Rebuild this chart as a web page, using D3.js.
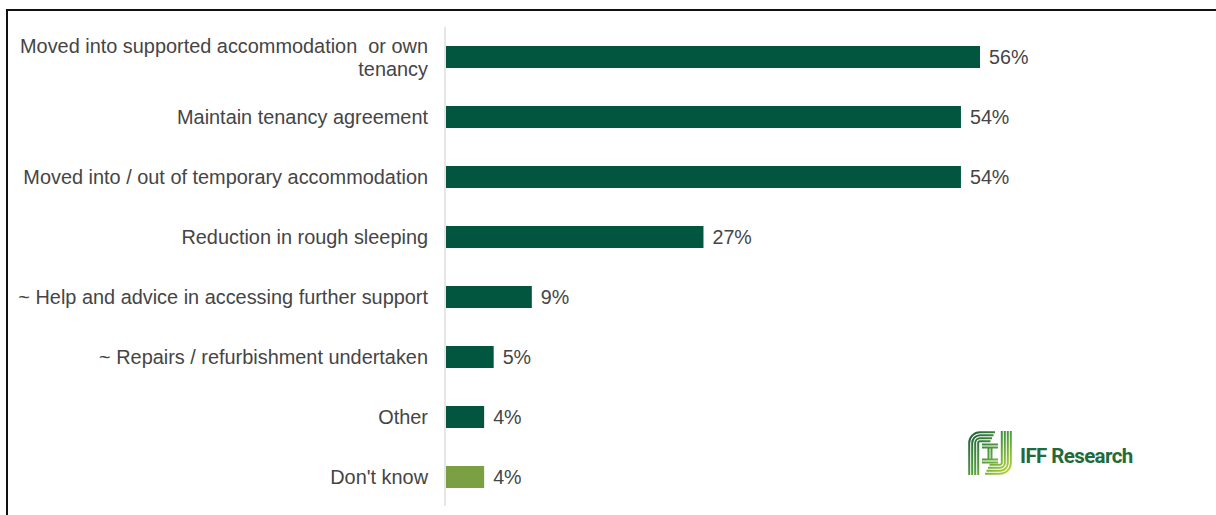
<!DOCTYPE html>
<html>
<head>
<meta charset="utf-8">
<script src="https://cdn.jsdelivr.net/npm/d3@7"></script>
<style>
  html, body { margin: 0; padding: 0; background: #fff; }
  svg { display: block; }
</style>
</head>
<body>
<script>
// Outcomes achieved, share of respondents (%)
const categories = [
  "Moved into supported accommodation  or own tenancy",
  "Maintain tenancy agreement",
  "Moved into / out of temporary accommodation",
  "Reduction in rough sleeping",
  "~ Help and advice in accessing further support",
  "~ Repairs / refurbishment undertaken",
  "Other",
  "Don't know"
];
const values = [56, 54, 54, 27, 9, 5, 4, 4];
const valueLabels = ["56%", "54%", "54%", "27%", "9%", "5%", "4%", "4%"];
// wrapped label lines for long categories
const labelLines = {
  "Moved into supported accommodation  or own tenancy": ["Moved into supported accommodation  or own", "tenancy"]
};

const W = 1216, H = 515;
const svg = d3.select("body").append("svg").attr("width", W).attr("height", H);

const font = "'Liberation Sans', Arial, sans-serif";
const textColor = "#454545";
const barDark = "#02563f";
const barLight = "#7ba043";

// frame
svg.append("path")
  .attr("d", `M7,${H + 2} V10 H${W + 2}`)
  .attr("fill", "none")
  .attr("stroke", "#111")
  .attr("stroke-width", 2);

const x0 = 446;
const x = d3.scaleLinear().domain([0, 100]).range([x0, x0 + 953.6]);
const y = d3.scaleBand().domain(categories).range([27, 507])
  .paddingInner(0.633).paddingOuter(0.3165);

// category axis line
svg.append("line")
  .attr("x1", x0 - 1).attr("x2", x0 - 1)
  .attr("y1", 27).attr("y2", 506)
  .attr("stroke", "#d9d9d9").attr("stroke-width", 1.3);

const rows = svg.append("g").selectAll("g").data(categories).join("g");

rows.append("rect")
  .attr("x", x(0))
  .attr("y", d => y(d))
  .attr("width", (d, i) => x(values[i]) - x(0))
  .attr("height", y.bandwidth())
  .attr("fill", d => d === "Don't know" ? barLight : barDark);

rows.append("text")
  .attr("x", (d, i) => x(values[i]) + 9)
  .attr("y", d => y(d) + y.bandwidth() / 2)
  .attr("dy", "0.36em")
  .attr("font-family", font)
  .attr("font-size", "19.7px")
  .attr("fill", textColor)
  .text((d, i) => valueLabels[i]);

const lbl = rows.append("text")
  .attr("text-anchor", "end")
  .attr("font-family", font)
  .attr("font-size", "19.9px")
  .attr("fill", textColor)
  .attr("xml:space", "preserve")
  .style("white-space", "pre");

lbl.each(function(d) {
  const lines = labelLines[d] || [d];
  const cy = y(d) + y.bandwidth() / 2;
  const lh = 23;
  const start = cy - (lines.length - 1) * lh / 2;
  d3.select(this).selectAll("tspan").data(lines).join("tspan")
    .attr("x", 428)
    .attr("y", (l, j) => start + j * lh)
    .attr("dy", "0.36em")
    .text(l => l);
});

// IFF Research logo
const logo = svg.append("g");
const defs = svg.append("defs");
const grad = defs.append("linearGradient")
  .attr("id", "logoGrad")
  .attr("gradientUnits", "userSpaceOnUse")
  .attr("x1", 968).attr("y1", 431).attr("x2", 1012).attr("y2", 475);
grad.append("stop").attr("offset", "0").attr("stop-color", "#1b5b3a");
grad.append("stop").attr("offset", "0.5").attr("stop-color", "#4f9a3c");
grad.append("stop").attr("offset", "1").attr("stop-color", "#c6dc3a");

const L = 968, T = 431, R = 1012, B = 475, rad = 12;
const stripes = [1.2, 4.2, 7.2, 10.2];
// left "F" stroke group, rounded at top-left
stripes.forEach((d, i) => {
  logo.append("path")
    .attr("d", `M${L + d},${B} V${T + rad} A${rad - d},${rad - d} 0 0 1 ${L + rad},${T + d} H${995 - i * 1.5}`)
    .attr("fill", "none").attr("stroke", "url(#logoGrad)").attr("stroke-width", 2);
});
// right "J" stroke group, rounded at bottom-right
stripes.forEach((d, i) => {
  logo.append("path")
    .attr("d", `M${R - d},${T} V${B - rad} A${rad - d},${rad - d} 0 0 1 ${R - rad},${B - d} H${985 + i * 1.5}`)
    .attr("fill", "none").attr("stroke", "url(#logoGrad)").attr("stroke-width", 2);
});
// middle "I" bars
[[982, 998, 444.5], [982, 998, 447.5], [982, 998, 459.5], [982, 998, 462.5]].forEach(s => {
  logo.append("line")
    .attr("x1", s[0]).attr("x2", s[1]).attr("y1", s[2]).attr("y2", s[2])
    .attr("stroke", "url(#logoGrad)").attr("stroke-width", 2);
});
[[988.5], [991.5]].forEach(s => {
  logo.append("line")
    .attr("x1", s[0]).attr("x2", s[0]).attr("y1", 447).attr("y2", 460)
    .attr("stroke", "url(#logoGrad)").attr("stroke-width", 2);
});

logo.append("text")
  .attr("x", 1020).attr("y", 463)
  .attr("font-family", "Roboto, 'Open Sans', sans-serif")
  .attr("font-weight", 700)
  .attr("font-size", "20.5px")
  .attr("letter-spacing", "-0.6px")
  .attr("fill", "#1f6b3b")
  .text("IFF Research");
</script>
</body>
</html>
